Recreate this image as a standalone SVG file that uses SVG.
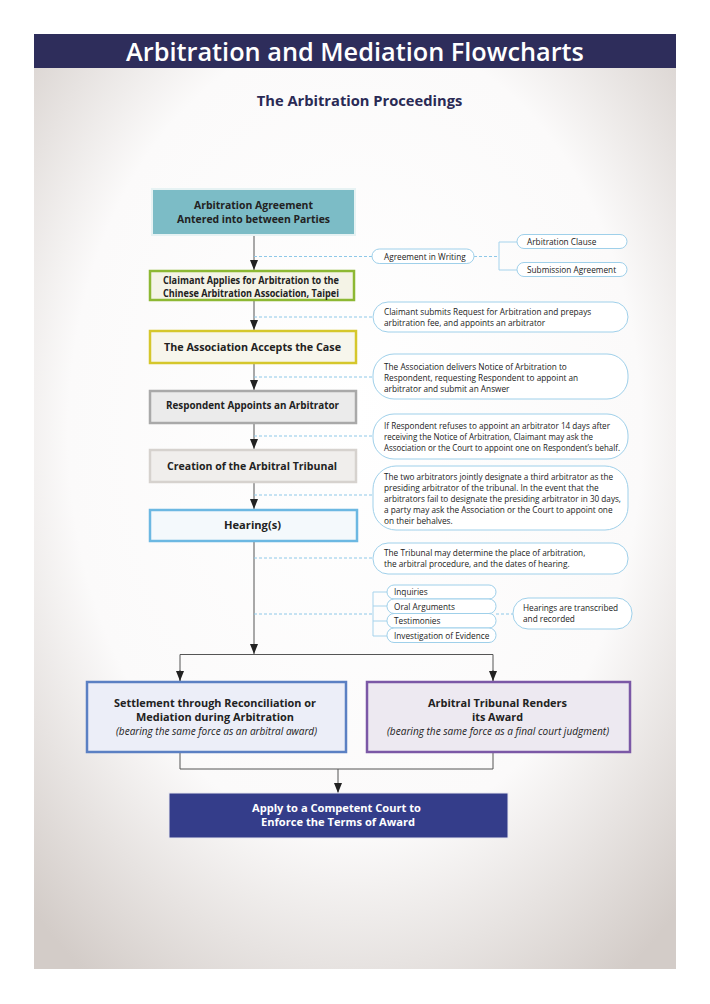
<svg xmlns="http://www.w3.org/2000/svg" width="710" height="1004" viewBox="0 0 710 1004">
<defs>
<radialGradient id="bg" cx="50%" cy="42%" r="72%" fx="50%" fy="38%">
<stop offset="0" stop-color="#ffffff"/>
<stop offset="0.62" stop-color="#fbfafa"/>
<stop offset="1" stop-color="#d3ccc8"/>
</radialGradient>
<marker id="ah" viewBox="0 0 10 8" refX="10" refY="4" markerWidth="10" markerHeight="8" markerUnits="userSpaceOnUse" orient="auto">
<path d="M0,0 L10,4 L0,8 Z" fill="#222"/>
</marker>
<style>
.t{font-family:"Open Sans","DejaVu Sans",sans-serif;}
.nb{font-family:"Open Sans","DejaVu Sans",sans-serif;font-weight:700;font-size:10.8px;fill:#222;text-anchor:middle;}
.nt{font-family:"Open Sans","DejaVu Sans",sans-serif;font-size:8.25px;fill:#222;}
.it{font-family:"Open Sans","DejaVu Sans",sans-serif;font-style:italic;font-size:10px;fill:#222;text-anchor:middle;}
.pill{fill:#ffffff;stroke:#9fd0ea;stroke-width:1;}
.dash{stroke:#8ec8e8;stroke-width:1;stroke-dasharray:3,2;fill:none;}
.br{stroke:#a6d3ec;stroke-width:1;fill:none;}
.ln{stroke:#555;stroke-width:1;fill:none;}
.wt{fill:#ffffff;}
</style>
</defs>
<rect x="0" y="0" width="710" height="1004" fill="#ffffff"/>
<rect x="34" y="68" width="642" height="901" fill="url(#bg)"/>
<rect x="34" y="34" width="642" height="34" fill="#2e2d5b"/>
<text class="t" x="355" y="61" font-size="25.3" font-weight="600" fill="#ffffff" text-anchor="middle">Arbitration and Mediation Flowcharts</text>
<text class="t" x="359.5" y="106" font-size="14.7" font-weight="700" fill="#2a2a55" text-anchor="middle">The Arbitration Proceedings</text>

<g id="connectors">
<line class="ln" x1="254" y1="235" x2="254" y2="270" marker-end="url(#ah)"/>
<line class="ln" x1="254" y1="300" x2="254" y2="330" marker-end="url(#ah)"/>
<line class="ln" x1="254" y1="363" x2="254" y2="390" marker-end="url(#ah)"/>
<line class="ln" x1="254" y1="423" x2="254" y2="449" marker-end="url(#ah)"/>
<line class="ln" x1="254" y1="482" x2="254" y2="509" marker-end="url(#ah)"/>
<line class="ln" x1="254" y1="542" x2="254" y2="654" marker-end="url(#ah)"/>
<polyline class="ln" points="180,681 180,654.5 493,654.5 493,681"/>
<line class="ln" x1="180" y1="670" x2="180" y2="681" marker-end="url(#ah)"/>
<line class="ln" x1="493" y1="670" x2="493" y2="681" marker-end="url(#ah)"/>
<polyline class="ln" points="180,752 180,769 493,769 493,752"/>
<line class="ln" x1="338" y1="769" x2="338" y2="793" marker-end="url(#ah)"/>
<line class="dash" x1="254" y1="256.5" x2="372" y2="256.5"/>
<line class="dash" x1="474" y1="256.5" x2="499" y2="256.5"/>
<polyline class="br" points="517,242 499,242 499,270 517,270"/>
<line class="dash" x1="254" y1="317" x2="373" y2="317"/>
<line class="dash" x1="254" y1="377" x2="373" y2="377"/>
<line class="dash" x1="254" y1="436" x2="373" y2="436"/>
<line class="dash" x1="254" y1="495" x2="373" y2="495"/>
<line class="dash" x1="254" y1="558" x2="373" y2="558"/>
<line class="dash" x1="254" y1="614" x2="373" y2="614"/>
<line class="dash" x1="496" y1="614" x2="513" y2="614"/>
<polyline class="br" points="387,592 373,592 373,636 387,636"/>
<line class="br" x1="373" y1="606" x2="387" y2="606"/>
<line class="br" x1="373" y1="621" x2="387" y2="621"/>
</g>

<g id="n-agreement">
<rect x="152" y="189" width="203" height="46" fill="#7cbcc6" stroke="#e6f2f3" stroke-width="2"/>
<text class="nb" x="253.5" y="209" textLength="119" lengthAdjust="spacingAndGlyphs">Arbitration Agreement</text>
<text class="nb" x="253.5" y="223" textLength="153" lengthAdjust="spacingAndGlyphs">Antered into between Parties</text>
</g>
<g id="n-claimant">
<rect x="150" y="271" width="204" height="29" fill="#f4f3e6" stroke="#8db833" stroke-width="2.5"/>
<text class="nb" x="251" y="284" font-size="9.8" style="font-size:9.8px" textLength="176" lengthAdjust="spacingAndGlyphs">Claimant Applies for Arbitration to the</text>
<text class="nb" x="251" y="296.5" style="font-size:9.8px" textLength="176" lengthAdjust="spacingAndGlyphs">Chinese Arbitration Association, Taipei</text>
</g>
<g id="n-accepts">
<rect x="150" y="331" width="206" height="32" fill="#f7f6ec" stroke="#d5c72c" stroke-width="2.5"/>
<text class="nb" x="252.5" y="351" textLength="177" lengthAdjust="spacingAndGlyphs">The Association Accepts the Case</text>
</g>
<g id="n-respondent">
<rect x="150" y="391" width="206" height="32" fill="#ebebeb" stroke="#a9a9a9" stroke-width="2.5"/>
<text class="nb" x="252.5" y="409" textLength="173" lengthAdjust="spacingAndGlyphs">Respondent Appoints an Arbitrator</text>
</g>
<g id="n-creation">
<rect x="150" y="450" width="206" height="32" fill="#f0eeec" stroke="#d6d2ce" stroke-width="2.5"/>
<text class="nb" x="252" y="470" textLength="170" lengthAdjust="spacingAndGlyphs">Creation of the Arbitral Tribunal</text>
</g>
<g id="n-hearing">
<rect x="150" y="510" width="207" height="31" fill="#f4f9fc" stroke="#6cb8e2" stroke-width="2.5"/>
<text class="nb" x="252.5" y="529" textLength="57" lengthAdjust="spacingAndGlyphs">Hearing(s)</text>
</g>

<g id="p-writing">
<rect class="pill" x="372" y="249" width="102" height="14.5" rx="7.25"/>
<text class="nt" x="384" y="259.5">Agreement in Writing</text>
</g>
<g id="p-clause">
<rect class="pill" x="517" y="234.5" width="110" height="14" rx="7"/>
<text class="nt" x="527" y="244.5">Arbitration Clause</text>
</g>
<g id="p-submission">
<rect class="pill" x="517" y="262.5" width="110" height="14" rx="7"/>
<text class="nt" x="527" y="272.5">Submission Agreement</text>
</g>
<g id="note1">
<rect class="pill" x="373" y="302" width="255" height="30" rx="15"/>
<text class="nt" x="384" y="315">Claimant submits Request for Arbitration and prepays</text>
<text class="nt" x="384" y="326">arbitration fee, and appoints an arbitrator</text>
</g>
<g id="note2">
<rect class="pill" x="373" y="354" width="255" height="45" rx="21"/>
<text class="nt" x="384" y="370">The Association delivers Notice of Arbitration to</text>
<text class="nt" x="384" y="381">Respondent, requesting Respondent to appoint an</text>
<text class="nt" x="384" y="392">arbitrator and submit an Answer</text>
</g>
<g id="note3">
<rect class="pill" x="373" y="414" width="255" height="45" rx="21"/>
<text class="nt" x="384" y="428.5" textLength="226" lengthAdjust="spacingAndGlyphs">If Respondent refuses to appoint an arbitrator 14 days after</text>
<text class="nt" x="384" y="439.5" textLength="209" lengthAdjust="spacingAndGlyphs">receiving the Notice of Arbitration, Claimant may ask the</text>
<text class="nt" x="384" y="450.5" textLength="236" lengthAdjust="spacingAndGlyphs">Association or the Court to appoint one on Respondent’s behalf.</text>
</g>
<g id="note4">
<rect class="pill" x="373" y="466" width="255" height="64" rx="23"/>
<text class="nt" x="384" y="480" textLength="229" lengthAdjust="spacingAndGlyphs">The two arbitrators jointly designate a third arbitrator as the</text>
<text class="nt" x="384" y="491">presiding arbitrator of the tribunal. In the event that the</text>
<text class="nt" x="384" y="502" textLength="237" lengthAdjust="spacingAndGlyphs">arbitrators fail to designate the presiding arbitrator in 30 days,</text>
<text class="nt" x="384" y="513">a party may ask the Association or the Court to appoint one</text>
<text class="nt" x="384" y="524">on their behalves.</text>
</g>
<g id="note5">
<rect class="pill" x="373" y="543" width="255" height="31" rx="15"/>
<text class="nt" x="384" y="555.5">The Tribunal may determine the place of arbitration,</text>
<text class="nt" x="384" y="566.5">the arbitral procedure, and the dates of hearing.</text>
</g>
<g id="p-inquiries">
<rect class="pill" x="387" y="585" width="109" height="14" rx="7"/>
<text class="nt" x="394" y="595">Inquiries</text>
</g>
<g id="p-oral">
<rect class="pill" x="387" y="599" width="109" height="14.5" rx="7"/>
<text class="nt" x="394" y="609.5">Oral Arguments</text>
</g>
<g id="p-testimonies">
<rect class="pill" x="387" y="613.5" width="109" height="14.5" rx="7"/>
<text class="nt" x="394" y="624">Testimonies</text>
</g>
<g id="p-evidence">
<rect class="pill" x="387" y="628" width="109" height="14.5" rx="7"/>
<text class="nt" x="394" y="638.5">Investigation of Evidence</text>
</g>
<g id="p-transcribed">
<rect class="pill" x="513" y="598" width="119" height="31" rx="15"/>
<text class="nt" x="523" y="611">Hearings are transcribed</text>
<text class="nt" x="523" y="622">and recorded</text>
</g>

<g id="n-settlement">
<rect x="87" y="682" width="259" height="70" fill="#eceef8" stroke="#5b80c3" stroke-width="2.5"/>
<text class="nb" x="215" y="707" textLength="202" lengthAdjust="spacingAndGlyphs">Settlement through Reconciliation or</text>
<text class="nb" x="215" y="721" textLength="158" lengthAdjust="spacingAndGlyphs">Mediation during Arbitration</text>
<text class="it" x="216.5" y="735" textLength="201" lengthAdjust="spacingAndGlyphs">(bearing the same force as an arbitral award)</text>
</g>
<g id="n-award">
<rect x="367" y="682" width="263" height="70" fill="#ede9f1" stroke="#7b58a6" stroke-width="2.5"/>
<text class="nb" x="497.5" y="707" textLength="139" lengthAdjust="spacingAndGlyphs">Arbitral Tribunal Renders</text>
<text class="nb" x="497.5" y="721">its Award</text>
<text class="it" x="498" y="735" textLength="222" lengthAdjust="spacingAndGlyphs">(bearing the same force as a final court judgment)</text>
</g>
<g id="n-apply">
<rect x="169" y="793" width="339" height="45" fill="#343d8a" stroke="#e8e8f0" stroke-width="1"/>
<text class="nb wt" x="336.5" y="812" textLength="169" lengthAdjust="spacingAndGlyphs" style="fill:#ffffff">Apply to a Competent Court to</text>
<text class="nb wt" x="338" y="826" textLength="154" lengthAdjust="spacingAndGlyphs" style="fill:#ffffff">Enforce the Terms of Award</text>
</g>
</svg>
